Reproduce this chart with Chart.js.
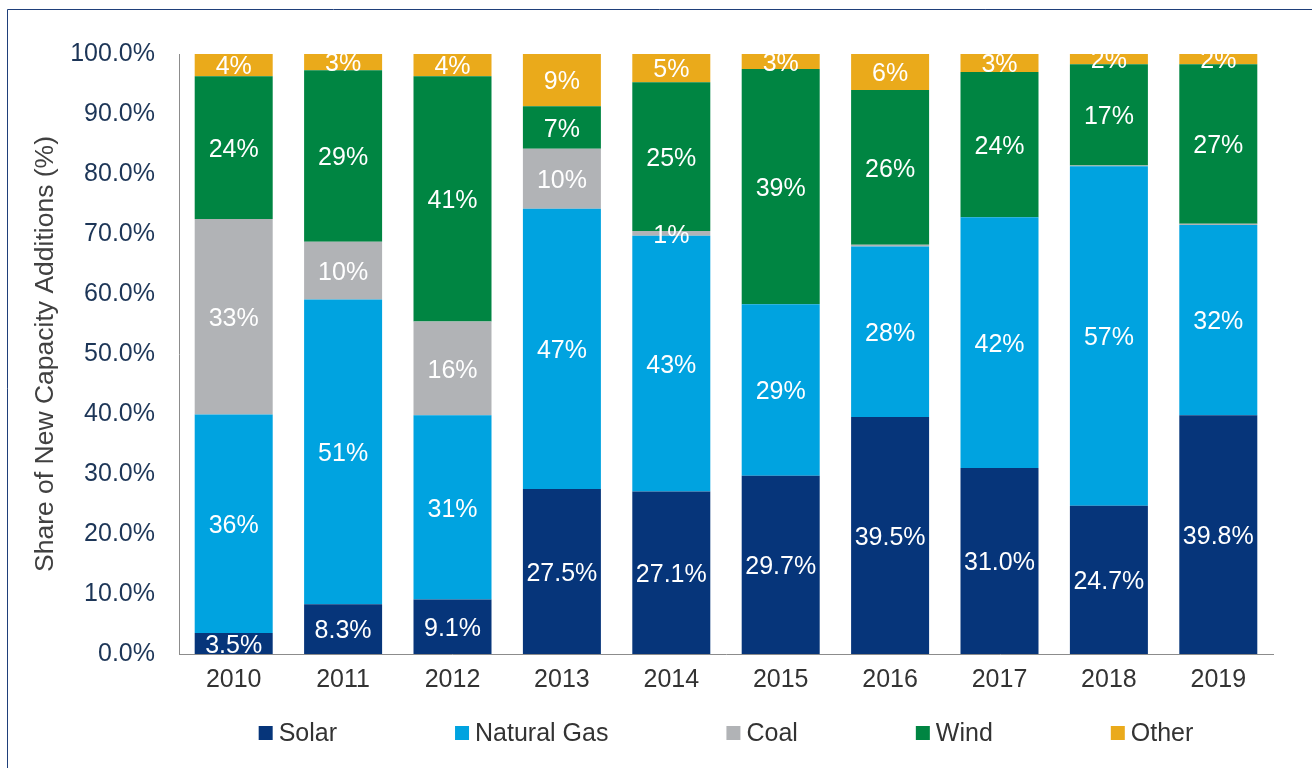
<!DOCTYPE html>
<html>
<head>
<meta charset="utf-8">
<script src="https://cdn.jsdelivr.net/npm/chart.js@4.4.1/dist/chart.umd.min.js"></script>
<style>
  html, body { margin: 0; padding: 0; background: #ffffff; overflow: hidden; }
  #wrap { width: 1312px; height: 768px; position: relative; }
</style>
</head>
<body>
<div id="wrap"><canvas id="c" width="1312" height="768"></canvas></div>
<script>
const years = ['2010','2011','2012','2013','2014','2015','2016','2017','2018','2019'];
const solar      = [3.5, 8.3, 9.1, 27.5, 27.1, 29.7, 39.5, 31.0, 24.7, 39.8];
const naturalGas = [36.4, 50.8, 30.7, 46.7, 42.6, 28.6, 28.4, 41.8, 56.6, 31.7];
const coal       = [32.6, 9.6, 15.6, 10.0, 0.8, 0, 0.3, 0, 0.1, 0.2];
const wind       = [23.8, 28.6, 40.9, 7.1, 24.8, 39.2, 25.8, 24.2, 16.9, 26.6];
const other      = [3.7, 2.7, 3.7, 8.7, 4.7, 2.5, 6.0, 3.0, 1.7, 1.7];
const yTicks = [0, 10, 20, 30, 40, 50, 60, 70, 80, 90, 100];

const FONT = '"Liberation Sans", Arial, sans-serif';

const framePlugin = {
  id: 'frame',
  beforeDraw(chart) {
    const ctx = chart.ctx;
    ctx.save();
    ctx.fillStyle = '#ffffff';
    ctx.fillRect(0, 0, chart.width, chart.height);
    ctx.strokeStyle = '#1f3f7a';
    ctx.lineWidth = 1;
    ctx.beginPath();
    ctx.moveTo(7.5, chart.height);
    ctx.lineTo(7.5, 9.5);
    ctx.lineTo(chart.width, 9.5);
    ctx.stroke();
    ctx.restore();
  }
};

const labelPlugin = {
  id: 'segLabels',
  afterDatasetsDraw(chart) {
    const ctx = chart.ctx;
    ctx.save();
    ctx.font = '25px ' + FONT;
    ctx.fillStyle = '#ffffff';
    ctx.textAlign = 'center';
    ctx.textBaseline = 'middle';
    chart.data.datasets.forEach((ds, i) => {
      const meta = chart.getDatasetMeta(i);
      meta.data.forEach((bar, j) => {
        const v = ds.data[j];
        if (v < 0.5) return;
        const txt = i === 0 ? v.toFixed(1) + '%' : Math.round(v) + '%';
        ctx.fillText(txt, bar.x, (bar.y + bar.base) / 2 + 2.5);
      });
    });
    ctx.restore();
  }
};

const legendPlugin = {
  id: 'customLegend',
  afterDraw(chart) {
    const ctx = chart.ctx;
    const a = chart.chartArea;
    ctx.save();
    ctx.font = '25px ' + FONT;
    const box = 14, gapText = 6, gapItem = 118;
    const items = chart.data.datasets.map(ds => ({
      label: ds.label, color: ds.backgroundColor, w: ctx.measureText(ds.label).width
    }));
    let total = 0;
    items.forEach((it, k) => { total += box + gapText + it.w + (k < items.length - 1 ? gapItem : 0); });
    let x = (a.left + a.right) / 2 - total / 2;
    const yc = 733;
    ctx.textBaseline = 'middle';
    ctx.textAlign = 'left';
    items.forEach(it => {
      ctx.fillStyle = it.color;
      ctx.fillRect(x, yc - box / 2, box, box);
      ctx.fillStyle = '#333333';
      ctx.fillText(it.label, x + box + gapText, yc + 1);
      x += box + gapText + it.w + gapItem;
    });
    ctx.restore();
  }
};

new Chart(document.getElementById('c'), {
  type: 'bar',
  data: {
    labels: years,
    datasets: [
      { label: 'Solar', data: solar, backgroundColor: '#06357a' },
      { label: 'Natural Gas', data: naturalGas, backgroundColor: '#00a3e0' },
      { label: 'Coal', data: coal, backgroundColor: '#b1b3b6' },
      { label: 'Wind', data: wind, backgroundColor: '#008542' },
      { label: 'Other', data: other, backgroundColor: '#eaaa1b' }
    ]
  },
  options: {
    responsive: false,
    animation: false,
    devicePixelRatio: 1,
    layout: { padding: { left: 0, right: 39, top: 54, bottom: 0 } },
    datasets: { bar: { barPercentage: 0.713, categoryPercentage: 1.0, borderWidth: 0 } },
    plugins: {
      legend: { display: false },
      tooltip: { enabled: false },
      title: { display: false }
    },
    scales: {
      x: {
        stacked: true,
        grid: { display: false, drawTicks: false },
        border: { display: true, color: '#8c8c8c', width: 1 },
        ticks: { color: '#333333', font: { family: FONT, size: 25 }, padding: 11, maxRotation: 0 },
        afterFit(s) { s.height = 114; }
      },
      y: {
        stacked: true,
        min: 0, max: 100,
        afterBuildTicks(s) { s.ticks = yTicks.map(v => ({ value: v })); },
        grid: { display: false, drawTicks: false },
        border: { display: true, color: '#8c8c8c', width: 1 },
        ticks: {
          color: '#1c3557',
          font: { family: FONT, size: 25 },
          padding: 24,
          callback: v => v.toFixed(1) + '%'
        },
        title: {
          display: true,
          text: 'Share of New Capacity Additions (%)',
          color: '#404040',
          font: { family: FONT, size: 26.5 },
          padding: { top: 30, bottom: 0 }
        },
        afterFit(s) { s.width = 179; }
      }
    }
  },
  plugins: [framePlugin, labelPlugin, legendPlugin]
});
</script>
</body>
</html>
